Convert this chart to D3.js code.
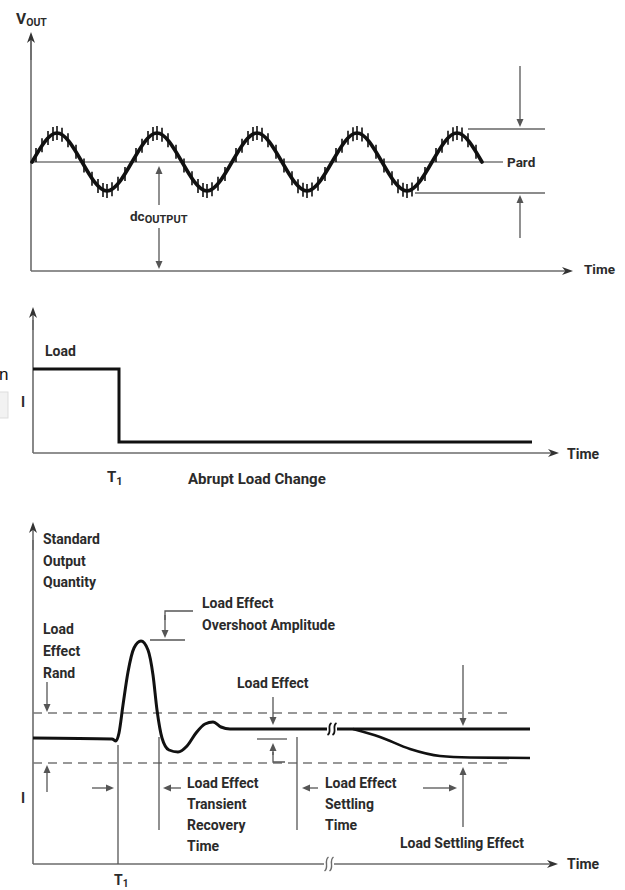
<!DOCTYPE html>
<html><head><meta charset="utf-8">
<script src="https://cdn.jsdelivr.net/npm/d3@7"></script>
<style>
html,body{margin:0;padding:0;background:#fff;}
svg text{font-family:"Liberation Sans Narrow","Roboto","Liberation Sans",sans-serif;font-weight:bold;fill:#2b2b2b;}
</style></head>
<body>
<svg id="c" width="625" height="890"></svg>
<script>
// ---------- DATA ----------
// Top: ripple (PARD) on top of dc output, time in cycles, value normalised
const rippleT = [0,0.25,0.5,0.75,1,1.25,1.5,1.75,2,2.25,2.5,2.75,3,3.25,3.5,3.75,4,4.25,4.5];
const rippleV = [0,1,0,-1,0,1,0,-1,0,1,0,-1,0,1,0,-1,0,1,0];
// noise spike positions within a cycle (fraction of cycle)
const noisePhase = [0.04,0.10,0.16,0.21,0.25,0.30,0.36,0.44,0.52,0.60,0.66,0.71,0.75,0.80,0.86,0.93];
const cycles = [0,1,2,3,4];

// Middle: load current step (time units 0..100)
const loadT = [0,17.2,17.2,99.8];
const loadV = [1,1,0,0];
const T1 = 17.2;

// Bottom: output response (time units, value units; band = +/-10)
const respT = [0,15.8,16.6,17.2,18,19,20.2,21.6,23,24,24.8,25.8,27.2,29,30.8,32.6,34.4,36,37.6,39.4,58.8];
const respV = [0,-0.4,-1.2,2,13.2,26.4,36,38.8,35.2,25.2,11.2,0,-4.8,-5.6,-3.2,2,5.6,6.4,4.4,3.6,3.6];
const resp2T = [60.8,99.4];
const resp2V = [3.6,3.6];
const settleT = [64,69.4,75.4,81.4,87.4,99.4];
const settleV = [3.6,0.4,-4.4,-7.2,-7.8,-8];
const band = [10,-10];

// ---------- DRAW ----------
const svg = d3.select("#c");
const AX = "#6b6b6b", LN = "#555", CV = "#111";

function arrow(g,x1,y1,x2,y2,col,hl,hw){
  col = col||LN; hl = hl||8; hw = hw||3.5;
  const a = Math.atan2(y2-y1,x2-x1), c=Math.cos(a), s=Math.sin(a);
  g.append("line").attr("x1",x1).attr("y1",y1).attr("x2",x2-c*hl*0.6).attr("y2",y2-s*hl*0.6)
    .attr("stroke",col).attr("stroke-width",1.3);
  const bx=x2-c*hl, by=y2-s*hl;
  g.append("path").attr("d",`M${x2},${y2}L${bx-s*hw},${by+c*hw}L${bx+s*hw},${by-c*hw}Z`).attr("fill",col);
}
function axisArrow(g,x1,y1,x2,y2){
  const a = Math.atan2(y2-y1,x2-x1), c=Math.cos(a), s=Math.sin(a);
  const hl=11, hw=4;
  g.append("line").attr("x1",x1).attr("y1",y1).attr("x2",x2-c*6).attr("y2",y2-s*6)
    .attr("stroke",AX).attr("stroke-width",1.6);
  const bx=x2-c*hl, by=y2-s*hl, nx=x2-c*hl*0.7, ny=y2-s*hl*0.7;
  g.append("path").attr("d",`M${x2},${y2}L${bx-s*hw},${by+c*hw}L${nx},${ny}L${bx+s*hw},${by-c*hw}Z`).attr("fill","#333");
}
function hline(g,x1,x2,y,col,w,dash){
  const l = g.append("line").attr("x1",x1).attr("x2",x2).attr("y1",y).attr("y2",y)
    .attr("stroke",col||LN).attr("stroke-width",w||1.3);
  if(dash) l.attr("stroke-dasharray",dash);
  return l;
}
function vline(g,x,y1,y2,col,w){
  return g.append("line").attr("x1",x).attr("x2",x).attr("y1",y1).attr("y2",y2)
    .attr("stroke",col||LN).attr("stroke-width",w||1.3);
}
function label(g,x,y,txt,size){
  return g.append("text").attr("x",x).attr("y",y).attr("font-size",size||14).text(txt);
}
function sub(g,x,y,main,subTxt,size,subSize,dy){
  const t = g.append("text").attr("x",x).attr("y",y).attr("font-size",size);
  t.append("tspan").text(main);
  t.append("tspan").attr("font-size",subSize).attr("dy",dy).text(subTxt);
  return t;
}
function squiggle(g,x0,y,col,w,h){
  h=h||6;
  [x0-2.5,x0+2.5].forEach(x=>{
    g.append("path").attr("d",`M${x+2},${y-h}C${x-3},${y-h*0.5} ${x+3},${y+h*0.5} ${x-2},${y+h}`)
      .attr("fill","none").attr("stroke",col).attr("stroke-width",w);
  });
}

// ===== TOP PANEL =====
const gT = svg.append("g");
const xT = d3.scaleLinear().domain([0,4.5]).range([32,482]);
const yT = d3.scaleLinear().domain([-1,1]).range([191,133]);
vline(gT,31,271,40,AX,1.6); axisArrow(gT,31,60,31,32);
axisArrow(gT,31,271,573,271);
hline(gT,31,503,yT(0),"#777",1.4);
sub(gT,16,24,"V","OUT",15.5,10.5,2);
label(gT,507,167,"Pard",13.5);
label(gT,584,274,"Time",13.5);

const ripplePts = rippleT.map((t,i)=>[xT(t),yT(rippleV[i])]);
const rp = gT.append("path").attr("d",d3.line().curve(d3.curveNatural)(ripplePts))
  .attr("fill","none").attr("stroke",CV).attr("stroke-width",3.6).attr("stroke-linecap","round");
// noise spikes
const node = rp.node(), L = node.getTotalLength();
const samples = d3.range(0,L,0.5).map(l=>node.getPointAtLength(l));
function yAtX(x){ let best=samples[0]; for(const p of samples){ if(Math.abs(p.x-x)<Math.abs(best.x-x)) best=p; } return best.y; }
const spikes = [];
cycles.forEach(c=>noisePhase.forEach(p=>{ const t=c+p; if(t<4.47) spikes.push(t); }));
gT.selectAll("line.sp").data(spikes).enter().append("line").attr("class","sp")
  .attr("x1",d=>xT(d)).attr("x2",d=>xT(d))
  .attr("y1",d=>yAtX(xT(d))-7).attr("y2",d=>yAtX(xT(d))+7)
  .attr("stroke",CV).attr("stroke-width",1.6);

// PARD markers
hline(gT,468,545,yT(1)-4,"#666",1.3);
hline(gT,415,545,yT(-1)+2,"#666",1.3);
arrow(gT,520,66,520,yT(1)-6);
arrow(gT,520,238,520,yT(-1)+4);
// dc output
arrow(gT,159,205,159,yT(0)+4);
sub(gT,130,221,"dc","OUTPUT",13.5,11,2);
arrow(gT,159,228,159,269);

// ===== MIDDLE PANEL =====
const gM = svg.append("g");
const xM = d3.scaleLinear().domain([0,100]).range([33,533]);
const yM = d3.scaleLinear().domain([0,1]).range([442,369]);
vline(gM,33,453,320,AX,1.6); axisArrow(gM,33,330,33,307);
axisArrow(gM,33,453,559,453);
gM.append("path").attr("d",d3.line().curve(d3.curveLinear)(loadT.map((t,i)=>[xM(t),yM(loadV[i])])))
  .attr("fill","none").attr("stroke",CV).attr("stroke-width",3);
label(gM,45,356,"Load",14);
label(gM,21,407,"I",14);
sub(gM,xM(T1)-12,482,"T","1",15,11,3);
label(gM,188,484,"Abrupt Load Change",15);
label(gM,567,459,"Time",14);
// cropped fragments at the left edge of the picture
gM.append("text").attr("x",-1).attr("y",380).attr("font-size",17).style("font-weight","normal")
  .style("font-family","Liberation Sans, sans-serif").style("fill","#111").text("n");
gM.append("rect").attr("x",-1).attr("y",392).attr("width",9).attr("height",26)
  .attr("fill","#f2f2f2").attr("stroke","#ddd");

// ===== BOTTOM PANEL =====
const gB = svg.append("g");
const xB = d3.scaleLinear().domain([0,100]).range([33,533]);
const yB = d3.scaleLinear().domain([-10,10]).range([763,713]);
vline(gB,33,864,540,AX,1.6); axisArrow(gB,33,550,33,522);
axisArrow(gB,33,864,558,864);
// axis break
gB.append("rect").attr("x",324).attr("y",860).attr("width",10).attr("height",8).attr("fill","#fff");
squiggle(gB,329,864,AX,1.4,7);
// band dashed lines
band.forEach(b=>hline(gB,xB(0),507,yB(b),"#777",1.5,"9,6"));
// response curve
const lineB = d3.line().x(d=>xB(d[0])).y(d=>yB(d[1]));
gB.append("path").attr("d",lineB.curve(d3.curveMonotoneX)(respT.map((t,i)=>[t,respV[i]])))
  .attr("fill","none").attr("stroke",CV).attr("stroke-width",3);
gB.append("path").attr("d",lineB.curve(d3.curveLinear)(resp2T.map((t,i)=>[t,resp2V[i]])))
  .attr("fill","none").attr("stroke",CV).attr("stroke-width",3);
gB.append("path").attr("d",lineB.curve(d3.curveMonotoneX)(settleT.map((t,i)=>[t,settleV[i]])))
  .attr("fill","none").attr("stroke",CV).attr("stroke-width",2.6);
squiggle(gB,(xB(58.8)+xB(60.8))/2,yB(3.6),CV,1.8,6);

// labels
["Standard","Output","Quantity"].forEach((s,i)=>label(gB,43,544+i*21.5,s,14));
["Load","Effect","Rand"].forEach((s,i)=>label(gB,43,634+i*22,s,14));
label(gB,202,608,"Load Effect",14);
label(gB,202,630,"Overshoot Amplitude",14);
label(gB,237,688,"Load Effect",14);
["Load Effect","Transient","Recovery","Time"].forEach((s,i)=>label(gB,187,788+i*21,s,14));
["Load Effect","Settling","Time"].forEach((s,i)=>label(gB,325,788+i*21,s,14));
label(gB,400,848,"Load Settling Effect",14);
label(gB,567,869,"Time",14);
label(gB,21,803,"I",14);
sub(gB,xB(T1)-5,885,"T","1",14,10,2);

// band arrows (Load Effect Rand)
arrow(gB,47,682,47,yB(10)-1);
arrow(gB,47,792,47,yB(-10)+2);
// overshoot marker
hline(gB,150,185,yB(38.8)-1);
gB.append("path").attr("d","M193,611H165V620").attr("fill","none").attr("stroke",LN).attr("stroke-width",1.3);
arrow(gB,165,615,165,yB(38.8)-3);
// load effect marker
arrow(gB,273,697,273,yB(3.6)-4);
hline(gB,257,287,739);
gB.append("path").attr("d","M285,762H273V752").attr("fill","none").attr("stroke",LN).attr("stroke-width",1.3);
arrow(gB,273,755,273,743);
// vertical time markers
vline(gB,xB(T1)-1,745,864);
vline(gB,159,737,830);
vline(gB,297,737,830);
arrow(gB,92,788,114,788);
arrow(gB,181,788,163,788);
arrow(gB,318,788,302,788);
arrow(gB,423,788,457,788);
// load settling effect markers
arrow(gB,463,665,463,yB(3.6)-3);
arrow(gB,463,827,463,767);
</script>
</body></html>
